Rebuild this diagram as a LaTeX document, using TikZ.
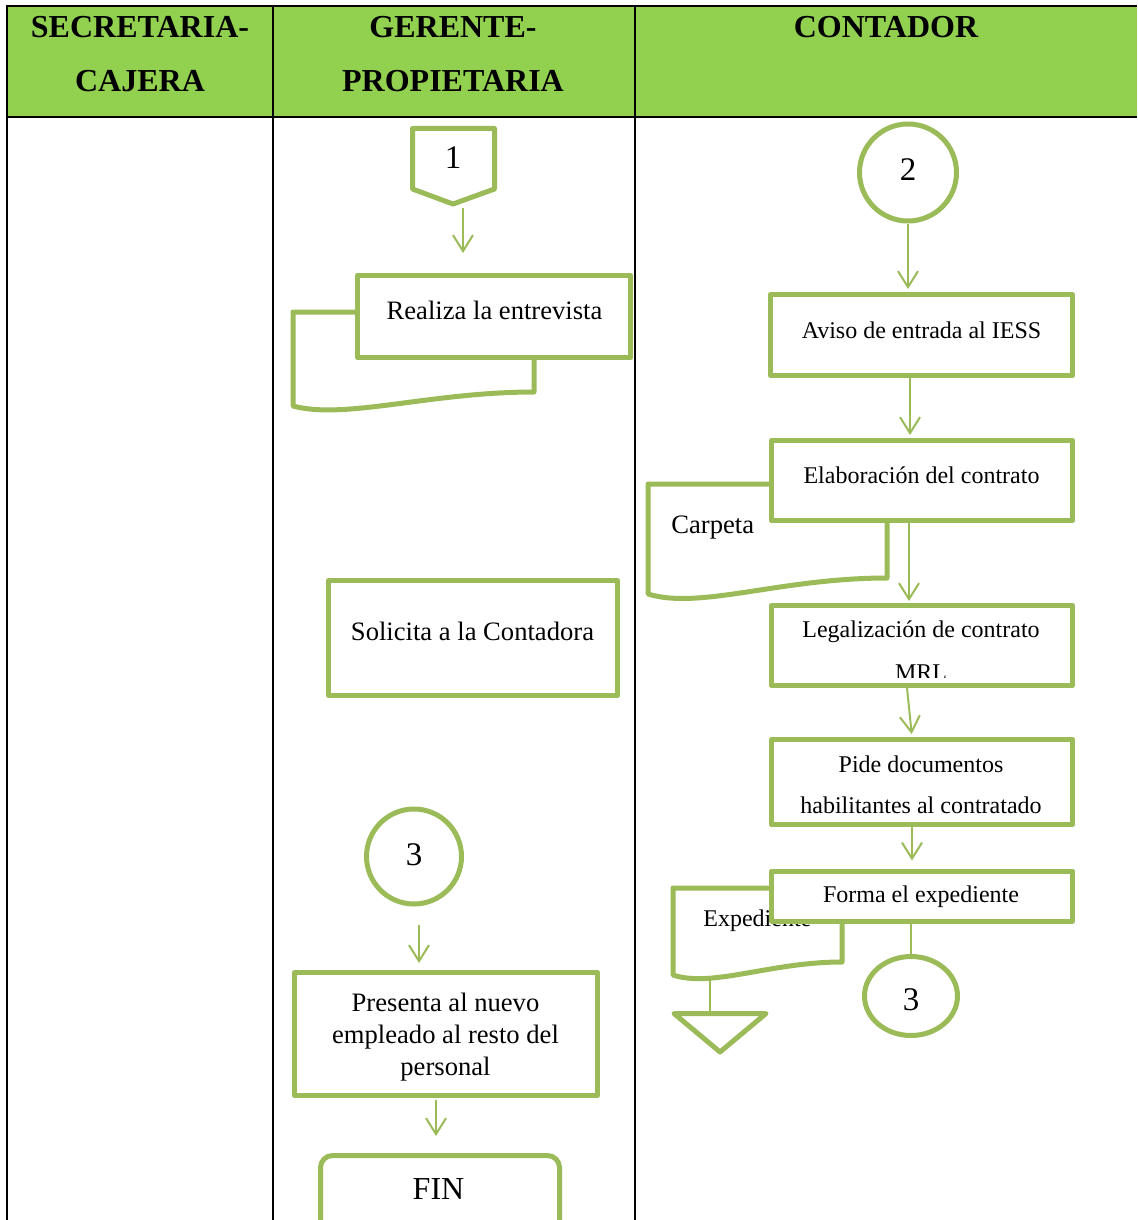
\documentclass[tikz,border=0pt]{standalone}
\usepackage{fontspec}
\setmainfont{Liberation Serif}
\usetikzlibrary{arrows.meta,shapes.geometric,calc}
\definecolor{hdrgreen}{HTML}{92D050}
\definecolor{flowgreen}{HTML}{9BBB59}
\begin{document}
\begin{tikzpicture}[x=0.5pt,y=-0.5pt,
  grid line/.style={draw=black,line width=1.3pt},
  outline/.style={draw=flowgreen,line width=2.5pt,line join=round},
  procbox/.style={outline,fill=white,rectangle,inner sep=0pt},
  flow/.style={draw=flowgreen,line width=1pt,-{Straight Barb[length=8pt,width=10pt]}},
  plainlink/.style={draw=flowgreen,line width=1pt},
  hdr/.style={anchor=base,inner sep=0pt,font=\fontsize{16}{19}\selectfont\bfseries},
  lblbig/.style={anchor=base,inner sep=0pt,font=\fontsize{13.3}{16}\selectfont},
  lblsmall/.style={anchor=base,inner sep=0pt,font=\fontsize{12}{14}\selectfont},
  digit/.style={anchor=base,inner sep=0pt,font=\fontsize{16.5}{19}\selectfont},
]
\useasboundingbox (0,0) rectangle (1137,1220);
\clip (0,0) rectangle (1137,1220);

% swimlane table
\fill[hdrgreen] (7,6) rectangle (1137,117);
\draw[grid line] (7,1220) -- (7,6) -- (1137,6);
\draw[grid line] (7,117) -- (1137,117);
\draw[grid line] (273,6) -- (273,1220);
\draw[grid line] (635,6) -- (635,1220);

\node[hdr] (h1a) at (140,38) {SECRETARIA-};
\node[hdr] (h1b) at (140,92) {CAJERA};
\node[hdr] (h2a) at (453,38) {GERENTE-};
\node[hdr] (h2b) at (453,92) {PROPIETARIA};
\node[hdr] (h3)  at (886,38) {CONTADOR};

% ---- GERENTE-PROPIETARIA lane ----
% off-page connector 1
\draw[outline,fill=white] (412.5,128.5) -- (494.5,128.5) -- (494.5,189) -- (453,204) -- (412.5,189) -- cycle;
\node[digit] (n1) at (453,169) {1};
\coordinate (a1from) at (463,208);
\coordinate (a1to) at (463,253);
\draw[flow] (a1from) -- (a1to);

% document behind the interview step
\draw[outline,fill=white] (293,312) -- (534,312) -- (534,392)
  .. controls (430,392) and (345,420) .. (293,406) -- cycle;
\node[procbox,minimum width=136.7pt,minimum height=41.2pt] (realiza) at (494,316.5) {};
\node[lblbig] (trealiza) at (494.5,319) {Realiza la entrevista};

\node[procbox,minimum width=144.5pt,minimum height=57.5pt] (solicita) at (473,638) {};
\node[lblbig] (tsolicita) at (472.5,640) {Solicita a la Contadora};

\node[outline,circle,fill=white,minimum size=47.5pt,inner sep=0pt] (c3a) at (414,856.5) {};
\node[digit] (n3a) at (414,865) {3};

\node[procbox,minimum width=151.5pt,minimum height=61.5pt] (presenta) at (446,1034) {};
\node[lblbig] (tpres1) at (445.5,1011) {Presenta al nuevo};
\node[lblbig] (tpres2) at (445.5,1043) {empleado al resto del};
\node[lblbig] (tpres3) at (445.5,1075) {personal};

\node[outline,fill=white,rectangle,rounded corners=6pt,minimum width=119.5pt,minimum height=40.5pt] (fin) at (440,1196) {};
\node[lblbig,font=\fontsize{16}{19}\selectfont] (tfin) at (438.5,1199) {FIN};

\draw[flow,shorten <=9pt,shorten >=3.5pt] ($(c3a.south)+(5,0)$) -- ($(c3a.south |- presenta.north)+(5,0)$);
\draw[flow,shorten <=1pt,shorten >=8.5pt] ($(presenta.south)+(-10,0)$) -- ($(presenta.south |- fin.north)+(-10,0)$);

% ---- CONTADOR lane ----
\node[outline,circle,fill=white,minimum size=48.5pt,inner sep=0pt] (c2) at (908,172.5) {};
\node[digit] (n2) at (908,180) {2};

\node[procbox,minimum width=151pt,minimum height=40.5pt] (aviso) at (921.5,335) {};
\node[lblsmall] (taviso) at (921.5,338) {Aviso de entrada al IESS};

% folder document behind the contract step
\draw[outline,fill=white] (648,484) -- (887,484) -- (887,578)
  .. controls (780,578) and (700,610) .. (648,594) -- cycle;
\node[lblbig,anchor=base west] (tcarpeta) at (671,533) {Carpeta};

\node[procbox,minimum width=150.5pt,minimum height=40pt] (elab) at (922,480.5) {};
\node[lblsmall] (telab) at (921.5,483) {Elaboración del contrato};

\node[procbox,minimum width=150.5pt,minimum height=40pt] (legal) at (922,645.5) {};
\node[lblsmall] (tlegal) at (921,637) {Legalización de contrato};
\begin{scope}
  \clip (769,600) rectangle (1075,677);
  \node[lblsmall] (tmrl) at (921,680) {MRL};
\end{scope}

\node[procbox,minimum width=150.5pt,minimum height=42.5pt] (pide) at (922,782) {};
\node[lblsmall] (tpide1) at (921,772) {Pide documentos};
\node[lblsmall] (tpide2) at (921,813) {habilitantes al contratado};

% file document behind the last step
\draw[outline,fill=white] (673,888) -- (842,888) -- (842,962)
  .. controls (770,962) and (712,988) .. (673,975) -- cycle;
\node[lblsmall,anchor=base west] (texped) at (703,926) {Expediente};

\node[procbox,minimum width=150.5pt,minimum height=25pt] (forma) at (922,896) {};
\node[lblsmall] (tforma) at (921,902) {Forma el expediente};

\node[outline,ellipse,fill=white,minimum width=46.5pt,minimum height=39.5pt,inner sep=0pt] (c3b) at (911,996) {};
\node[digit] (n3b) at (911,1010) {3};

% archive triangle
\draw[outline,fill=white] (674,1013.5) -- (766,1013.5) -- (720,1052) -- cycle;
\coordinate (archtop) at (710,1013.5);
\coordinate (expbottom) at (710,980);
\draw[plainlink] (expbottom) -- (archtop);

\draw[flow,shorten >=1.5pt] (c2.south) -- (c2.south |- aviso.north);
\draw[flow,shorten >=1.5pt] ($(aviso.south)+(-11.5,0)$) -- ($(aviso.south |- elab.north)+(-11.5,0)$);
\draw[flow,shorten >=1pt] ($(elab.south)+(-13,0)$) -- ($(elab.south |- legal.north)+(-13,0)$);
\draw[flow,shorten >=1.5pt] ($(legal.south)+(-15,0)$) -- ($(pide.north)+(-10,0)$);
\draw[flow,shorten >=4pt] ($(pide.south)+(-10,0)$) -- ($(pide.south |- forma.north)+(-10,0)$);
\draw[plainlink] (c3b.north |- forma.south) -- (c3b.north);
\end{tikzpicture}
\end{document}
